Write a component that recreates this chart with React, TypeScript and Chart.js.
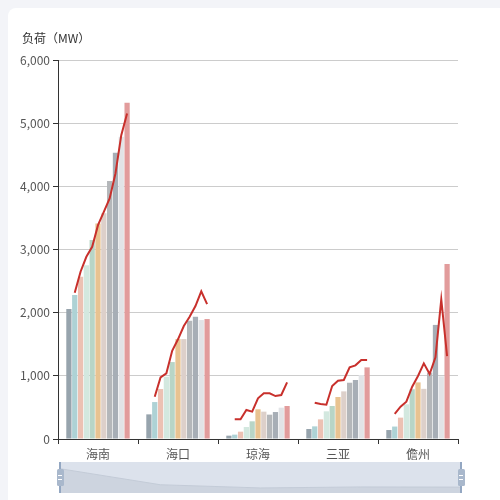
import React, { useEffect, useRef } from 'react';
import { Chart, registerables } from 'chart.js';

Chart.register(...registerables);

const categories = ['海南', '海口', '琼海', '三亚', '儋州'];
const yTitle = '负荷（MW）';
const yTicks = { min: 0, max: 6000, step: 1000 };

const bar1 = [2060, 390, 53, 158, 142];
const bar2 = [2280, 585, 69, 200, 197];
const bar3 = [2570, 791, 116, 311, 338];
const bar4 = [2750, 986, 190, 438, 549];
const bar5 = [3150, 1218, 280, 522, 788];
const bar6 = [3410, 1582, 470, 665, 896];
const bar7 = [3575, 1582, 433, 754, 794];
const bar8 = [4085, 1872, 385, 891, 1050];
const bar9 = [4530, 1935, 427, 934, 1806];
const bar10 = [4783, 1883, 496, 1013, 992];
const bar11 = [5325, 1899, 522, 1134, 2769];

const lineHainan = [2315, 2648, 2885, 3043, 3386, 3597, 3808, 4204, 4810, 5153];
const lineHaikou = [669, 976, 1039, 1397, 1578, 1788, 1935, 2104, 2337, 2136];
const lineQionghai = [312, 312, 459, 433, 644, 723, 723, 680, 696, 897];
const lineSanya = [574, 554, 543, 839, 922, 934, 1134, 1166, 1250, 1250];
const lineDanzhou = [396, 511, 590, 828, 997, 1197, 1028, 1292, 2210, 1313];

const barSeries = [bar1, bar2, bar3, bar4, bar5, bar6, bar7, bar8, bar9, bar10, bar11];
const lineSeries = [lineHainan, lineHaikou, lineQionghai, lineSanya, lineDanzhou];

const barColors = [
  '#97a4ad', '#aed2d5', '#ecc1b3', '#d3e8df', '#b8d5c6', '#e8c391',
  '#ddd0ca', '#b4b7ba', '#a7aeb6', '#e2e4e7', '#e29c9c',
];
const lineColor = '#c8302c';
const FONT = '"Noto Sans CJK SC", "Noto Sans", sans-serif';

const CAT_PCT = 0.8;
const BAR_PCT = 0.9;

export default function App() {
  const mainRef = useRef<HTMLCanvasElement>(null);
  const zoomRef = useRef<HTMLCanvasElement>(null);

  useEffect(() => {
    document.documentElement.style.overflow = 'hidden';
    document.body.style.background = '#f3f4f8';
    document.body.style.overflow = 'hidden';

    const nBars = barSeries.length;
    const offsetFor = (i: number) => -CAT_PCT / 2 + (CAT_PCT * (i + 0.5)) / nBars;
    const linePoints: { x: number; y: number | null }[] = [];
    lineSeries.forEach((vals, g) => {
      vals.forEach((v, k) => linePoints.push({ x: g + offsetFor(k + 1), y: v }));
      linePoints.push({ x: g + 0.5, y: null });
    });

    const titlePlugin = {
      id: 'ytitle',
      afterDraw(chart: any) {
        const ctx = chart.ctx;
        const area = chart.chartArea;
        ctx.save();
        ctx.font = `12px ${FONT}`;
        ctx.fillStyle = '#333';
        ctx.textBaseline = 'middle';
        ctx.textAlign = 'left';
        ctx.fillText(yTitle, area.left - 36, area.top - 22);
        ctx.restore();
      },
    };

    const datasets: any[] = barSeries.map((d, i) => ({
      type: 'bar',
      label: `s${i + 1}`,
      data: d,
      backgroundColor: barColors[i],
      borderWidth: 0,
      categoryPercentage: CAT_PCT,
      barPercentage: BAR_PCT,
      order: 1,
    }));
    datasets.push({
      type: 'line',
      label: 'line',
      data: linePoints,
      parsing: false,
      borderColor: lineColor,
      borderWidth: 2,
      pointRadius: 0,
      tension: 0,
      spanGaps: false,
      order: 0,
    });

    const main = new Chart(mainRef.current!, {
      type: 'bar',
      data: { labels: categories, datasets },
      options: {
        animation: false,
        responsive: false,
        layout: { padding: { left: 0, right: 42, top: 52, bottom: 0 } },
        plugins: { legend: { display: false }, tooltip: { enabled: false } },
        scales: {
          x: {
            type: 'category',
            offset: true,
            grid: {
              offset: true,
              drawOnChartArea: false,
              drawTicks: true,
              tickLength: 5,
              tickColor: '#333',
            },
            border: { color: '#333', width: 1 },
            ticks: { color: '#555', padding: 3, font: { size: 12, family: FONT } },
            afterFit: (s: any) => { s.height = 21; },
          },
          y: {
            min: yTicks.min,
            max: yTicks.max,
            ticks: { stepSize: yTicks.step, color: '#555', padding: 3, font: { size: 12, family: FONT } },
            grid: { color: '#cccccc', tickColor: '#333', tickLength: 5 },
            border: { color: '#333', width: 1 },
            afterFit: (s: any) => { s.width = 50; },
          },
        },
      } as any,
      plugins: [titlePlugin],
    });

    const shadowData = bar1;
    const smax = Math.max(...shadowData);
    const zoom = new Chart(zoomRef.current!, {
      type: 'line',
      data: {
        labels: categories,
        datasets: [{
          data: shadowData,
          borderColor: '#c3cbd7',
          borderWidth: 1,
          backgroundColor: '#cdd4df',
          fill: 'start',
          pointRadius: 0,
          tension: 0,
        }],
      },
      options: {
        animation: false,
        responsive: false,
        layout: { padding: 0 },
        plugins: { legend: { display: false }, tooltip: { enabled: false } },
        scales: {
          x: { display: false, offset: false },
          y: { display: false, min: -smax * 0.23, max: smax * 1.34 },
        },
      } as any,
    });

    return () => { main.destroy(); zoom.destroy(); };
  }, []);

  const handle = (left: number) => (
    <div style={{ position: 'absolute', left, top: 0, width: 0, height: 31 }}>
      <div style={{ position: 'absolute', left: -1, top: 0, width: 2, height: 31, background: '#93a7c2' }} />
      <div style={{ position: 'absolute', left: -3.5, top: 7, width: 7, height: 17, background: '#a9b8cc', borderRadius: 1.5 }}>
        <div style={{ position: 'absolute', left: 1.5, top: 6, width: 4, height: 1, background: '#fff' }} />
        <div style={{ position: 'absolute', left: 1.5, top: 10, width: 4, height: 1, background: '#fff' }} />
      </div>
    </div>
  );

  return (
    <div style={{ position: 'fixed', left: 8, top: 8, width: 600, height: 600, background: '#fff', borderRadius: 8 }}>
      <canvas ref={mainRef} width={492} height={452} style={{ position: 'absolute', left: 0, top: 0, width: 492, height: 452 }} />
      <div style={{ position: 'absolute', left: 52, top: 454, width: 401, height: 31, background: '#dce2ec' }}>
        <canvas ref={zoomRef} width={401} height={31} style={{ position: 'absolute', left: 0, top: 0, width: 401, height: 31 }} />
        {handle(0)}
        {handle(401)}
      </div>
    </div>
  );
}
